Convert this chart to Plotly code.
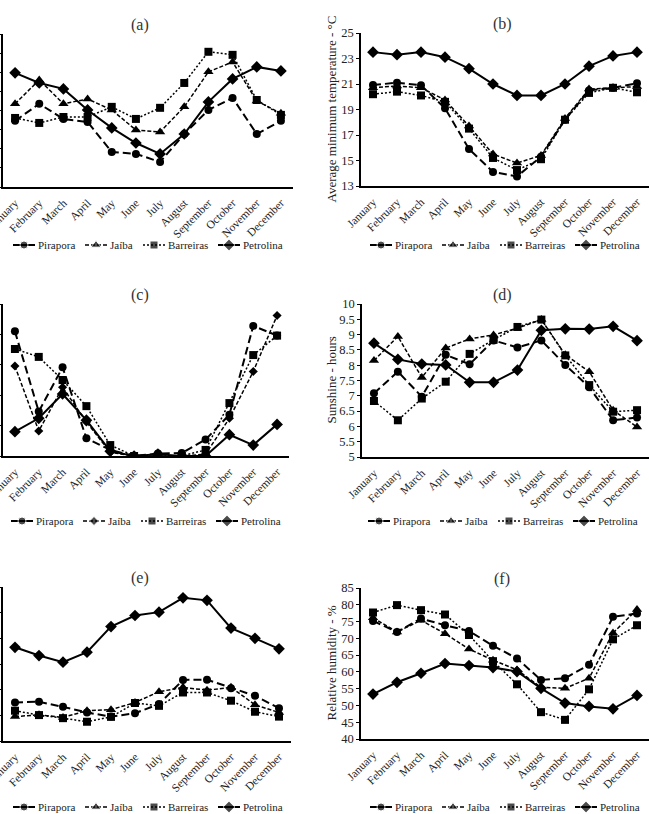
import plotly.graph_objects as go

months = ["January", "February", "March", "April", "May", "June", "July",
          "August", "September", "October", "November", "December"]
stations = ["Pirapora", "Jaíba", "Barreiras", "Petrolina"]

# (a) average maximum temperature (axis labels cropped in the reference)
a_pirapora = [29.46, 30.35, 29.56, 29.40, 27.83, 27.73, 27.31, 28.77, 30.03, 30.66, 28.77, 29.46]
a_jaiba = [30.35, 31.60, 30.35, 30.60, 30.03, 28.98, 28.88, 30.19, 32.02, 32.54, 30.50, 29.85]
a_barreiras = [29.61, 29.35, 29.66, 29.66, 30.19, 29.56, 30.14, 31.44, 33.07, 32.91, 30.55, 29.77]
a_petrolina = [31.97, 31.44, 31.13, 30.03, 29.09, 28.30, 27.73, 28.77, 30.45, 31.65, 32.28, 32.07]

# (b) average minimum temperature - °C
b_pirapora = [20.92, 21.10, 20.90, 19.10, 15.90, 14.10, 13.75, 15.30, 18.20, 20.50, 20.70, 21.05]
b_jaiba = [20.70, 20.85, 20.70, 19.75, 17.70, 15.50, 14.80, 15.40, 18.30, 20.60, 20.70, 20.80]
b_barreiras = [20.20, 20.40, 20.10, 19.60, 17.50, 15.20, 14.25, 15.10, 18.20, 20.30, 20.70, 20.35]
b_petrolina = [23.50, 23.30, 23.50, 23.10, 22.20, 21.00, 20.10, 20.10, 21.00, 22.40, 23.20, 23.50]

# (c) rainfall (axis labels cropped in the reference)
c_pirapora = [205, 73, 146, 29, 10, 0, 4, 5, 27, 68, 214, 198]
c_jaiba = [148, 41, 113, 56, 6, 0, 0, 0, 3, 62, 139, 231]
c_barreiras = [176, 163, 125, 82, 18, 0, 0, 0, 10, 87, 166, 198]
c_petrolina = [40, 62, 102, 59, 8, 0, 3, 0, 0, 35, 18, 52]

# (d) sunshine - hours
d_pirapora = [7.08, 7.79, 6.97, 8.34, 8.03, 8.81, 8.58, 8.81, 8.01, 7.28, 6.20, 6.29]
d_jaiba = [8.15, 8.94, 7.60, 8.56, 8.86, 8.99, 9.21, 9.49, 8.34, 7.79, 6.53, 5.98]
d_barreiras = [6.83, 6.20, 6.91, 7.46, 8.37, 8.83, 9.25, 9.49, 8.32, 7.35, 6.48, 6.53]
d_petrolina = [8.72, 8.19, 8.04, 8.01, 7.44, 7.44, 7.84, 9.14, 9.19, 9.18, 9.27, 8.80]

# (e) (axis labels cropped in the reference)
e_pirapora = [1.50, 1.53, 1.33, 1.11, 0.95, 1.08, 1.44, 2.38, 2.39, 2.06, 1.76, 1.28]
e_jaiba = [0.95, 1.02, 0.92, 1.18, 1.22, 1.50, 1.92, 2.09, 1.98, 2.09, 1.41, 1.11]
e_barreiras = [1.18, 1.01, 0.89, 0.75, 0.94, 1.48, 1.37, 1.89, 1.89, 1.57, 1.14, 0.95]
e_petrolina = [3.65, 3.33, 3.07, 3.46, 4.46, 4.89, 5.02, 5.58, 5.48, 4.40, 4.00, 3.59]

# (f) relative humidity - %
f_pirapora = [75.2, 71.9, 75.9, 73.9, 72.2, 67.8, 64.0, 57.6, 58.1, 62.1, 76.4, 77.4]
f_jaiba = [76.1, 71.9, 75.4, 71.4, 66.8, 63.5, 60.6, 55.4, 55.1, 58.1, 71.6, 78.6]
f_barreiras = [77.7, 79.9, 78.4, 77.1, 71.0, 63.2, 56.3, 48.0, 45.7, 54.8, 69.7, 73.9]
f_petrolina = [53.4, 56.9, 59.6, 62.5, 61.9, 61.3, 60.1, 55.1, 50.7, 49.7, 49.0, 53.0]

panels = [
    ("(a)", [a_pirapora, a_jaiba, a_barreiras, a_petrolina], None, [26, 34], 1),
    ("(b)", [b_pirapora, b_jaiba, b_barreiras, b_petrolina], "Average minimum temperature - °C", [13, 25], 2),
    ("(c)", [c_pirapora, c_jaiba, c_barreiras, c_petrolina], None, [0, 250], 50),
    ("(d)", [d_pirapora, d_jaiba, d_barreiras, d_petrolina], "Sunshine - hours", [5, 10], 0.5),
    ("(e)", [e_pirapora, e_jaiba, e_barreiras, e_petrolina], None, [0, 6], 1),
    ("(f)", [f_pirapora, f_jaiba, f_barreiras, f_petrolina], "Relative humidity - %", [40, 85], 5),
]

W, H = 649, 814
FONT = "Liberation Serif, Times New Roman, Times, serif"

# pixel boxes: (left, right, top, bottom)
boxes = [
    (3, 293, 34, 187), (361, 649, 33, 186),
    (3, 289, 304, 456), (362, 649, 304, 457),
    (3, 291, 587, 741), (361, 649, 588, 739),
]
legend_rows = [245, 245, 521, 521, 807, 807]
legend_starts = [13, 85, 143, 218]

styles = {
    "Pirapora": dict(dash="8px,4px", width=2.0, symbol="circle", size=8),
    "Jaíba": dict(dash="4px,2px", width=1.5, symbol="triangle-up", size=9),
    "Barreiras": dict(dash="2px,2px", width=1.5, symbol="square", size=8),
    "Petrolina": dict(dash="solid", width=2.0, symbol="diamond", size=9),
}

fig = go.Figure()
layout = dict(width=W, height=H, margin=dict(l=0, r=0, t=0, b=0),
              paper_bgcolor="white", plot_bgcolor="rgba(0,0,0,0)",
              font=dict(family=FONT, color="#222", size=12),
              showlegend=False, annotations=[])


def style_for(label, name):
    st = dict(styles[name])
    if label == "(c)" and name == "Jaíba":
        st["symbol"] = "diamond"
        st["size"] = 7
    return st


for i, (label, series, ytitle, yrange, dtick) in enumerate(panels):
    n = i + 1
    xa = "x" if n == 1 else f"x{n}"
    ya = "y" if n == 1 else f"y{n}"
    left, right, top, bottom = boxes[i]
    for name, vals in zip(stations, series):
        st = style_for(label, name)
        fig.add_trace(go.Scatter(
            x=months, y=vals, name=name, mode="lines+markers",
            xaxis=xa, yaxis=ya,
            line=dict(color="black", width=st["width"], dash=st["dash"]),
            marker=dict(symbol=st["symbol"], size=st["size"], color="black"),
        ))
    axn = "" if n == 1 else str(n)
    layout[f"xaxis{axn}"] = dict(
        domain=[left / W, right / W], anchor=ya, type="category",
        range=[-0.5, 11.5], tickangle=-45, showline=True, linecolor="black",
        linewidth=1.5, ticks="", showgrid=False, zeroline=False,
        tickfont=dict(size=11.5, family=FONT, color="#222"), automargin=False,
        ticklabelstandoff=3,
    )
    is_left = (i % 2 == 0)
    layout[f"yaxis{axn}"] = dict(
        domain=[1 - bottom / H, 1 - top / H], anchor=xa, range=yrange,
        dtick=dtick, tick0=yrange[0], showline=True, linecolor="black",
        linewidth=1.5, ticks="outside", ticklen=3, tickcolor="black",
        showgrid=False, zeroline=False, showticklabels=not is_left,
        tickfont=dict(size=12.5, family=FONT, color="#222"), automargin=False,
    )
    if ytitle:
        layout["annotations"].append(dict(
            text=ytitle, xref="paper", yref="paper", x=331 / W,
            y=1 - (top + bottom) / 2 / H, textangle=-90, showarrow=False,
            xanchor="center", yanchor="middle",
            font=dict(size=13, family=FONT, color="#222"),
        ))
    layout["annotations"].append(dict(
        text=label, xref="paper", yref="paper",
        x=(140 if is_left else 502) / W, y=1 - (top - 9) / H,
        xanchor="center", yanchor="middle", showarrow=False,
        font=dict(size=16, family=FONT, color="#333"),
    ))

    # per-panel legend row (drawn on a pixel-space overlay axis)
    ly = legend_rows[i]
    shift = (0 if is_left else 357) + (-2 if i in (2, 3) else 0)
    for k, name in enumerate(stations):
        st = style_for(label, name)
        x0 = legend_starts[k] + shift
        fig.add_trace(go.Scatter(
            x=[x0, x0 + 11, x0 + 22], y=[ly, ly, ly], mode="lines+markers",
            xaxis="x7", yaxis="y7", showlegend=False, hoverinfo="skip",
            line=dict(color="black", width=st["width"],
                      dash="solid" if name == "Pirapora" else st["dash"]),
            marker=dict(symbol=st["symbol"], size=[0, st["size"], 0], color="black"),
        ))
        layout["annotations"].append(dict(
            text=name, xref="paper", yref="paper", x=(x0 + 23) / W, y=1 - ly / H,
            xanchor="left", yanchor="middle", showarrow=False,
            font=dict(size=11, family=FONT, color="#222"),
        ))

layout["xaxis7"] = dict(domain=[0, 1], range=[0, W], visible=False, anchor="y7")
layout["yaxis7"] = dict(domain=[0, 1], range=[H, 0], visible=False, anchor="x7")

fig.update_layout(**layout)
fig.write_html("out.html")
